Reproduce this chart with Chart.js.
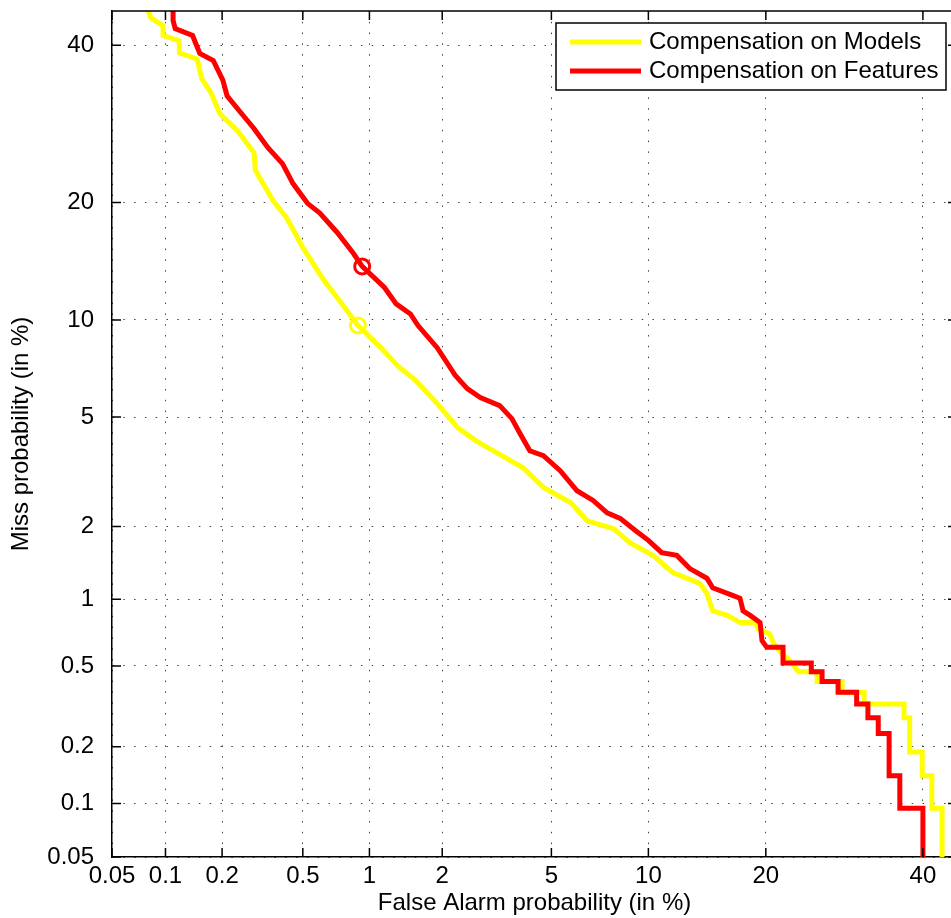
<!DOCTYPE html>
<html>
<head>
<meta charset="utf-8">
<script src="https://cdn.jsdelivr.net/npm/chart.js@4"></script>
<style>
  html, body { margin: 0; padding: 0; background: #fff; overflow: hidden; }
  #wrap { width: 962px; height: 918px; }
</style>
</head>
<body>
<div id="wrap"><canvas id="det" width="962" height="918"></canvas></div>
<script>
// DET curve values, all in %
const tickValues = [0.05, 0.1, 0.2, 0.5, 1, 2, 5, 10, 20, 40];

const pfaModels = [0.078, 0.083, 0.097, 0.097, 0.119, 0.119, 0.148, 0.157, 0.175, 0.195,
  0.24, 0.29, 0.295, 0.36, 0.42, 0.5, 0.63, 0.74, 0.89, 1.12,
  1.32, 1.56, 1.91, 2.3, 2.7, 3.25, 4.0, 4.7, 5.8, 6.55,
  7.9, 8.85, 10.3, 11.7, 13.8, 14.4, 14.9, 16.2, 17.4, 18.9,
  19.2, 20.4, 20.8, 21.7, 22.4, 23.6, 25.8, 25.8, 28.9, 28.9,
  31.8, 31.8, 37.3, 37.3, 38.1, 38.1, 39.9, 39.9, 41.3, 41.3,
  42.8, 42.8];
const pmissModels = [46, 44, 42.8, 41.4, 40.6, 38.9, 38.0, 35.2, 33.3, 30.5,
  28.3, 25.6, 23.5, 20.2, 18.4, 15.6, 12.8, 11.3, 9.65, 8.3,
  7.3, 6.6, 5.55, 4.6, 4.15, 3.75, 3.33, 2.82, 2.47, 2.1,
  1.96, 1.72, 1.53, 1.3, 1.17, 1.06, 0.89, 0.85, 0.79, 0.79,
  0.74, 0.705, 0.64, 0.57, 0.54, 0.469, 0.469, 0.422, 0.422, 0.375,
  0.375, 0.328, 0.328, 0.281, 0.281, 0.188, 0.188, 0.141, 0.141, 0.094,
  0.094, 0.03];

const pfaFeatures = [0.11, 0.11, 0.113, 0.14, 0.153, 0.18, 0.202, 0.212, 0.25, 0.29,
  0.34, 0.40, 0.45, 0.526, 0.60, 0.72, 0.85, 0.93, 1.16, 1.30,
  1.49, 1.60, 1.91, 2.25, 2.5, 2.8, 3.3, 3.65, 3.9, 4.22,
  4.7, 5.35, 6.07, 6.83, 7.55, 8.27, 9.15, 10.0, 10.9, 12.0,
  13.0, 14.4, 14.9, 16.7, 17.4, 17.7, 18.4, 19.4, 19.6, 20.1,
  21.85, 21.85, 25.1, 25.1, 26.4, 26.4, 28.4, 28.4, 30.8, 30.8,
  32.3, 32.3, 33.7, 33.7, 35.2, 35.2, 36.7, 36.7, 40.0, 40.0];
const pmissFeatures = [46, 43.6, 42.4, 41.4, 38.8, 37.8, 35.0, 32.9, 30.6, 28.6,
  26.2, 24.3, 22.0, 19.9, 18.9, 17.0, 15.1, 13.98, 12.3, 11.1,
  10.4, 9.64, 8.3, 6.82, 6.2, 5.8, 5.46, 4.94, 4.4, 3.83,
  3.68, 3.25, 2.74, 2.52, 2.26, 2.15, 1.93, 1.76, 1.57, 1.53,
  1.35, 1.23, 1.12, 1.04, 1.01, 0.89, 0.85, 0.79, 0.655, 0.61,
  0.61, 0.516, 0.516, 0.469, 0.469, 0.422, 0.422, 0.375, 0.375, 0.328,
  0.328, 0.281, 0.281, 0.234, 0.234, 0.141, 0.141, 0.094, 0.094, 0.03];

// min DCF operating points [pfa, pmiss]
const dcfModels = [0.89, 9.65];
const dcfFeatures = [0.93, 13.98];

const seriesNames = ['Compensation on Models', 'Compensation on Features'];
const seriesColors = ['#ffff00', '#ff0000'];

// inverse normal CDF (Acklam)
function probit(p) {
  const a = [-3.969683028665376e+01, 2.209460984245205e+02, -2.759285104469687e+02, 1.383577518672690e+02, -3.066479806614716e+01, 2.506628277459239e+00];
  const b = [-5.447609879822406e+01, 1.615858368580409e+02, -1.556989798598866e+02, 6.680131188771972e+01, -1.328068155288572e+01];
  const c = [-7.784894002430293e-03, -3.223964580411365e-01, -2.400758277161838e+00, -2.549732539343734e+00, 4.374664141464968e+00, 2.938163982698783e+00];
  const d = [7.784695709041462e-03, 3.224671290700398e-01, 2.445134137142996e+00, 3.754408661907416e+00];
  const plow = 0.02425;
  let q, r;
  if (p < plow) {
    q = Math.sqrt(-2 * Math.log(p));
    return (((((c[0]*q+c[1])*q+c[2])*q+c[3])*q+c[4])*q+c[5]) / ((((d[0]*q+d[1])*q+d[2])*q+d[3])*q+1);
  }
  if (p > 1 - plow) {
    q = Math.sqrt(-2 * Math.log(1 - p));
    return -(((((c[0]*q+c[1])*q+c[2])*q+c[3])*q+c[4])*q+c[5]) / ((((d[0]*q+d[1])*q+d[2])*q+d[3])*q+1);
  }
  q = p - 0.5; r = q * q;
  return (((((a[0]*r+a[1])*r+a[2])*r+a[3])*r+a[4])*r+a[5])*q / (((((b[0]*r+b[1])*r+b[2])*r+b[3])*r+b[4])*r+1);
}

// normal deviate axis, values given in %
class ProbitScale extends Chart.Scale {
  static id = 'probit';
  static defaults = {};
  determineDataLimits() {
    this.min = this.options.min;
    this.max = this.options.max;
  }
  buildTicks() {
    return tickValues.map(v => ({ value: v }));
  }
  getLabelForValue(v) { return String(v); }
  configure() {
    super.configure();
    this._zStart = probit(this.min / 100);
    this._zRange = probit(this.max / 100) - this._zStart;
  }
  getPixelForValue(v) {
    return this.getPixelForDecimal((probit(v / 100) - this._zStart) / this._zRange);
  }
  getValueForPixel(px) {
    const target = this._zStart + this.getDecimalForPixel(px) * this._zRange;
    let lo = 1e-6, hi = 1 - 1e-6;
    for (let i = 0; i < 60; i++) {
      const mid = (lo + hi) / 2;
      if (probit(mid) < target) lo = mid; else hi = mid;
    }
    return lo * 100;
  }
}
Chart.register(ProbitScale);

function toPoints(xs, ys) {
  return xs.map((x, i) => ({ x: x, y: ys[i] }));
}

// frame lines and inward tick marks
const innerTicks = {
  id: 'innerTicks',
  afterDatasetsDraw(chart) {
    const { ctx, chartArea: a, scales: { x, y } } = chart;
    ctx.save();
    ctx.strokeStyle = '#000';
    ctx.lineWidth = 1.5;
    ctx.beginPath();
    ctx.moveTo(a.left, a.top);
    ctx.lineTo(a.right, a.top);
    ctx.lineTo(a.right, a.bottom);
    tickValues.forEach(v => {
      const px = x.getPixelForValue(v), py = y.getPixelForValue(v);
      ctx.moveTo(px, a.bottom); ctx.lineTo(px, a.bottom - 9);
      ctx.moveTo(px, a.top); ctx.lineTo(px, a.top + 9);
      ctx.moveTo(a.left, py); ctx.lineTo(a.left + 9, py);
      ctx.moveTo(a.right, py); ctx.lineTo(a.right - 9, py);
    });
    ctx.stroke();
    ctx.restore();
  }
};

const boxLegend = {
  id: 'boxLegend',
  afterDraw(chart) {
    const { ctx, chartArea: a } = chart;
    const right = a.right - 11, top = a.top + 12, w = 390, h = 67;
    ctx.save();
    ctx.fillStyle = '#fff';
    ctx.fillRect(right - w, top, w, h);
    ctx.strokeStyle = '#000';
    ctx.lineWidth = 1.5;
    ctx.strokeRect(right - w, top, w, h);
    ctx.font = '24px "Liberation Sans", Arial, sans-serif';
    ctx.textBaseline = 'middle';
    ctx.fillStyle = '#000';
    seriesNames.forEach((name, i) => {
      const yy = top + 19 + i * 29;
      ctx.strokeStyle = seriesColors[i];
      ctx.lineWidth = 5;
      ctx.beginPath();
      ctx.moveTo(right - w + 14, yy);
      ctx.lineTo(right - w + 85, yy);
      ctx.stroke();
      ctx.fillText(name, right - w + 93, yy);
    });
    ctx.restore();
  }
};

Chart.defaults.font.family = '"Liberation Sans", Arial, sans-serif';
Chart.defaults.font.size = 24;
Chart.defaults.color = '#000';

const axisCommon = {
  type: 'probit',
  min: 0.05,
  max: 45,
  grid: { color: '#444', lineWidth: 1, drawTicks: false },
  border: { display: true, color: '#000', width: 1.5, dash: [1.5, 9.3] },
  ticks: { autoSkip: false, maxRotation: 0, color: '#000' }
};

new Chart(document.getElementById('det'), {
  type: 'scatter',
  data: {
    datasets: [
      {
        label: seriesNames[1],
        data: toPoints(pfaFeatures, pmissFeatures),
        showLine: true,
        borderColor: seriesColors[1],
        borderWidth: 5,
        pointRadius: 0,
        tension: 0,
        clip: 0,
        order: 1
      },
      {
        label: seriesNames[0],
        data: toPoints(pfaModels, pmissModels),
        showLine: true,
        borderColor: seriesColors[0],
        borderWidth: 5,
        pointRadius: 0,
        tension: 0,
        clip: 0,
        order: 2
      },
      {
        label: 'minDCF features',
        data: [{ x: dcfFeatures[0], y: dcfFeatures[1] }],
        pointRadius: 7.5,
        pointBorderWidth: 3,
        pointBorderColor: seriesColors[1],
        pointBackgroundColor: 'rgba(0,0,0,0)',
        order: 0
      },
      {
        label: 'minDCF models',
        data: [{ x: dcfModels[0], y: dcfModels[1] }],
        pointRadius: 7.5,
        pointBorderWidth: 3,
        pointBorderColor: seriesColors[0],
        pointBackgroundColor: 'rgba(0,0,0,0)',
        order: 0
      }
    ]
  },
  options: {
    responsive: false,
    animation: false,
    layout: { autoPadding: false, padding: { left: 0, top: 11, right: 5, bottom: 0 } },
    plugins: { legend: { display: false }, tooltip: { enabled: false } },
    scales: {
      x: Object.assign({}, axisCommon, {
        position: 'bottom',
        ticks: Object.assign({}, axisCommon.ticks, { padding: 5 }),
        title: { display: true, text: 'False Alarm probability (in %)', padding: { top: 0, bottom: 0 } },
        afterFit: s => { s.height = 61; s.paddingLeft = 0; s.paddingRight = 0; }
      }),
      y: Object.assign({}, axisCommon, {
        position: 'left',
        ticks: Object.assign({}, axisCommon.ticks, { padding: 18 }),
        title: { display: true, text: 'Miss probability (in %)', padding: { top: 7, bottom: 0 } },
        afterFit: s => { s.width = 112; s.paddingTop = 0; s.paddingBottom = 0; }
      })
    }
  },
  plugins: [innerTicks, boxLegend]
});
</script>
</body>
</html>
